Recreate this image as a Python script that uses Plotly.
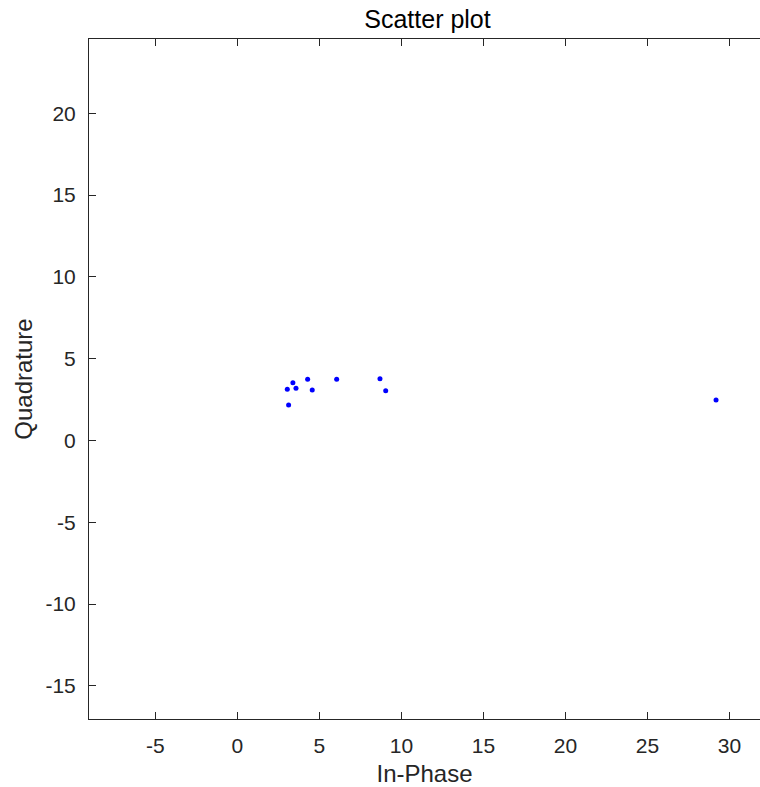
import plotly.graph_objects as go

in_phase = [3.04, 3.38, 3.57, 3.12, 4.28, 4.56, 6.05, 8.69, 9.04, 29.18]
quadrature = [3.13, 3.53, 3.19, 2.17, 3.74, 3.09, 3.74, 3.78, 3.04, 2.48]
x_ticks = [-5, 0, 5, 10, 15, 20, 25, 30]
y_ticks = [-15, -10, -5, 0, 5, 10, 15, 20]

FONT = "Liberation Sans, Arial, Helvetica"
fig = go.Figure(go.Scatter(
    x=in_phase, y=quadrature, mode="markers",
    marker=dict(color="#0000ff", size=5, line=dict(width=0)),
))

axis_common = dict(
    showgrid=False, zeroline=False, showline=True, linecolor="#262626", linewidth=1,
    ticks="inside", ticklen=7, tickcolor="#262626",
    tickfont=dict(family=FONT, size=21, color="#262626"),
)
fig.update_xaxes(range=[-9.05, 31.86], tickvals=x_ticks, ticktext=[str(v) for v in x_ticks],
                 mirror="ticks", ticklabelstandoff=8,
                 title=dict(text="In-Phase", font=dict(family=FONT, size=24, color="#262626"), standoff=8),
                 **axis_common)
fig.update_yaxes(range=[-17.02, 24.54], tickvals=y_ticks, ticktext=[str(v) for v in y_ticks],
                 mirror=False, ticklabelstandoff=8,
                 title=dict(text="Quadrature", font=dict(family=FONT, size=24, color="#262626"), standoff=6),
                 **axis_common)
fig.update_layout(
    width=760, height=787,
    margin=dict(l=89, r=0, t=39, b=68),
    plot_bgcolor="white", paper_bgcolor="white",
    showlegend=False,
    title=dict(text="Scatter plot", x=0.5625, xanchor="center", y=0.975, yanchor="middle",
               font=dict(family=FONT, size=25, color="#000000")),
)
fig.write_html("out.html")
